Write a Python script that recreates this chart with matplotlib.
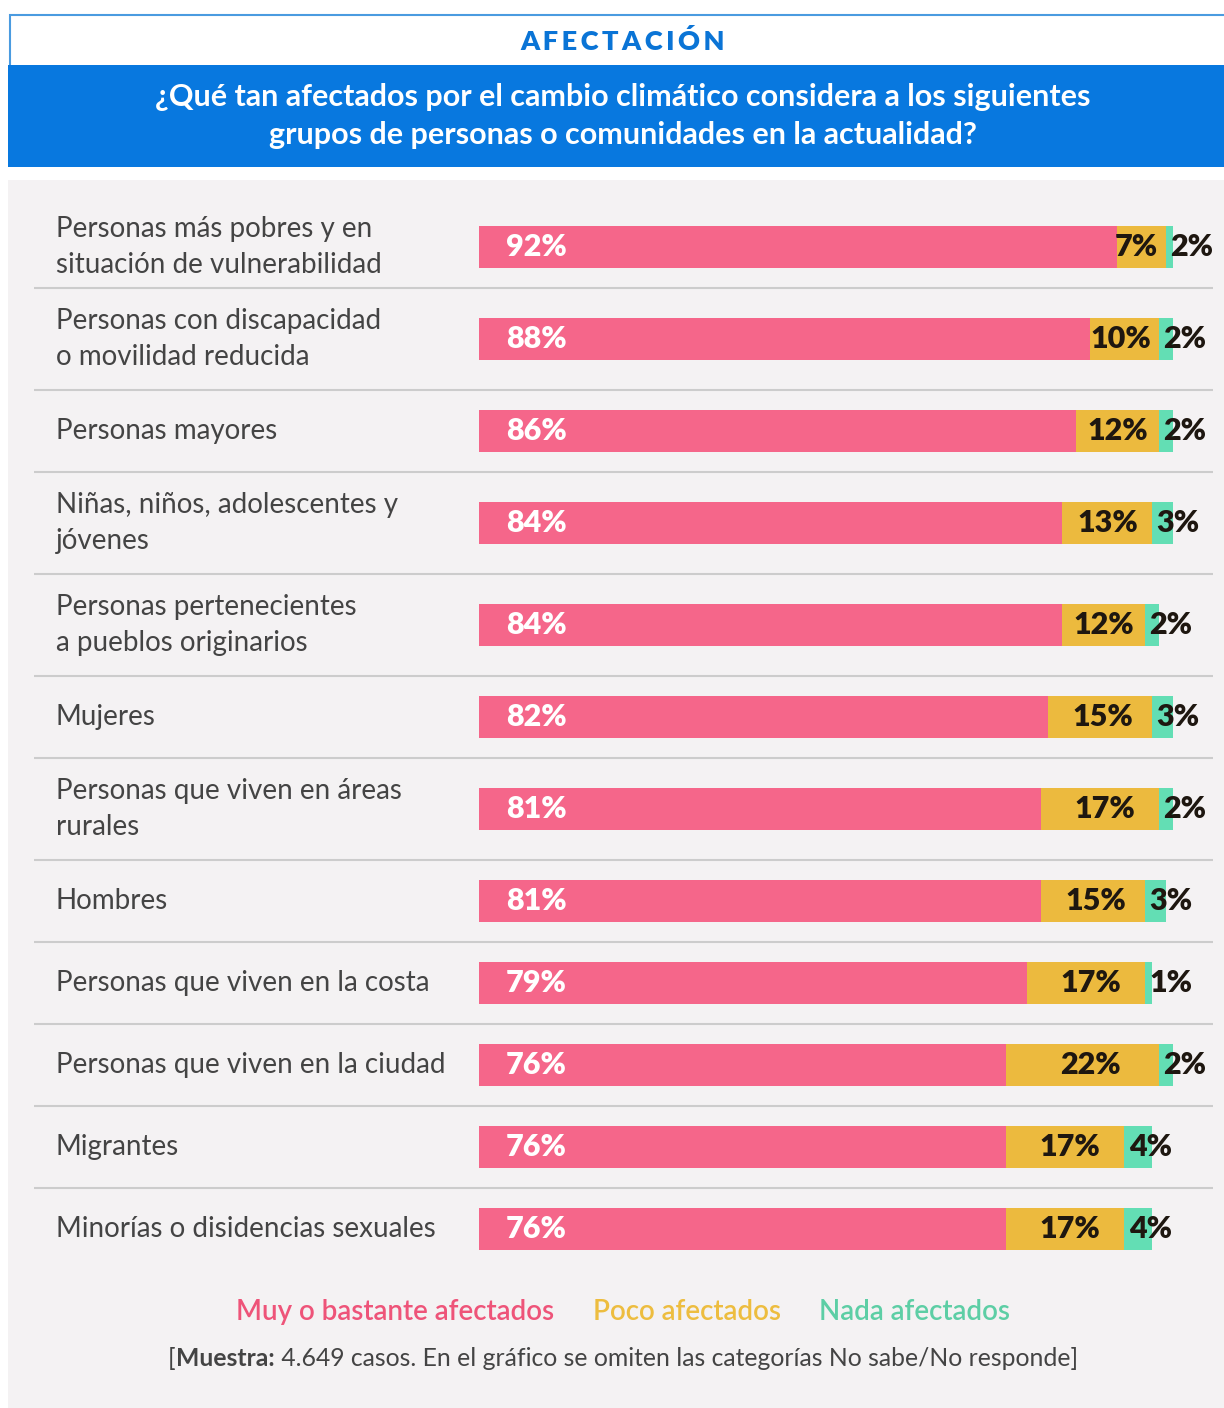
import matplotlib
matplotlib.use("Agg")
import matplotlib.pyplot as plt
from matplotlib.patches import Rectangle

# data
categories = [
    "Personas más pobres y en\nsituación de vulnerabilidad",
    "Personas con discapacidad\no movilidad reducida",
    "Personas mayores",
    "Niñas, niños, adolescentes y\njóvenes",
    "Personas pertenecientes\na pueblos originarios",
    "Mujeres",
    "Personas que viven en áreas\nrurales",
    "Hombres",
    "Personas que viven en la costa",
    "Personas que viven en la ciudad",
    "Migrantes",
    "Minorías o disidencias sexuales",
]
muy = [92, 88, 86, 84, 84, 82, 81, 81, 79, 76, 76, 76]
poco = [7, 10, 12, 13, 12, 15, 17, 15, 17, 22, 17, 17]
nada = [2, 2, 2, 3, 2, 3, 2, 3, 1, 2, 4, 4]
series_names = ["Muy o bastante afectados", "Poco afectados", "Nada afectados"]

PINK = "#F5668A"
YELLOW = "#ECBA3E"
GREEN = "#63DEB4"
BLUE = "#0878DF"
BG = "#F4F2F3"
TXT = "#444444"
FONT = ["Lato", "DejaVu Sans"]

W, H = 1224, 1408
fig = plt.figure(figsize=(W / 100, H / 100), dpi=100)
fig.patch.set_facecolor("white")

# background axes in pixel coordinates
bg = fig.add_axes([0, 0, 1, 1])
bg.set_xlim(0, W)
bg.set_ylim(H, 0)
bg.axis("off")

bg.add_patch(Rectangle((10, 15), 1220, 52, facecolor="white", edgecolor="#4A9BE0", lw=1.5))
bg.add_patch(Rectangle((8, 65), 1220, 102, facecolor=BLUE, edgecolor="none"))
bg.add_patch(Rectangle((8, 180), 1220, 1230, facecolor=BG, edgecolor="none"))

bg.text(623, 42, "\u200a\u200a".join("AFECTACIÓN"), color="#0A74D6", fontsize=19.5,
        fontweight="heavy", ha="center", va="center", family=FONT)
bg.text(623, 116, "¿Qué tan afectados por el cambio climático considera a los siguientes\n"
        "grupos de personas o comunidades en la actualidad?", color="white", fontsize=22,
        fontweight="bold", ha="center", va="center", family=FONT, linespacing=1.42)

# row layout
half = [51 if "\n" in c else 41 for c in categories]
centers = [247]
seps = []
for i in range(1, len(categories)):
    prev_half = 41 if i == 1 else half[i - 1]
    seps.append(centers[-1] + prev_half)
    centers.append(centers[-1] + prev_half + half[i])

bg.hlines(seps, 34, 1213, color="#CCCCCC", lw=1.5)
for c, y in zip(categories, centers):
    bg.text(56, y, c, color=TXT, fontsize=20, ha="left", va="center", family=FONT,
            linespacing=1.5)

# bars
ax = fig.add_axes([479 / W, 0, 694 / W, 1])
ax.set_xlim(0, 100)
ax.set_ylim(H, 0)
ax.axis("off")
ax.patch.set_alpha(0)

ax.barh(centers, muy, height=42, color=PINK)
ax.barh(centers, poco, left=muy, height=42, color=YELLOW)
left2 = [a + b for a, b in zip(muy, poco)]
ax.barh(centers, nada, left=left2, height=42, color=GREEN)

lab = dict(fontsize=22, fontweight="heavy", va="center", family=FONT)
for y, a, b, c in zip(centers, muy, poco, nada):
    ax.text(3.9, y, f"{a}%", color="white", ha="left", **lab)
    pad = max(1.2, 0.39 * (b - 8))
    ax.text(a + b - pad, y, f"{b}%", color="#1E1710", ha="right", **lab)
    ax.text(a + b + 0.6, y, f"{c}%", color="#1E1710", ha="left", **lab)

# legend and footnote, centred by measuring
fig.canvas.draw()
r = fig.canvas.get_renderer()


def centred_run(parts, y, cx, gap=0):
    texts = [bg.text(0, y, s, ha="left", va="center", family=FONT, **kw) for s, kw in parts]
    widths = [t.get_window_extent(r).width for t in texts]
    total = sum(widths) + gap * (len(texts) - 1)
    x = cx - total / 2
    for t, w in zip(texts, widths):
        t.set_x(x)
        x += w + gap


leg_colors = ["#EE5479", "#EDBD3F", "#5DCEA5"]
centred_run([(n, dict(color=col, fontsize=20, fontweight="semibold"))
             for n, col in zip(series_names, leg_colors)], 1312, 623, gap=38)
centred_run([("[", dict(color=TXT, fontsize=17.8)),
             ("Muestra:", dict(color=TXT, fontsize=17.8, fontweight="bold")),
             (" 4.649 casos. En el gráfico se omiten las categorías No sabe/No responde]",
              dict(color=TXT, fontsize=17.8))], 1358, 623)

fig.savefig("out.png", dpi=100, facecolor="white")
